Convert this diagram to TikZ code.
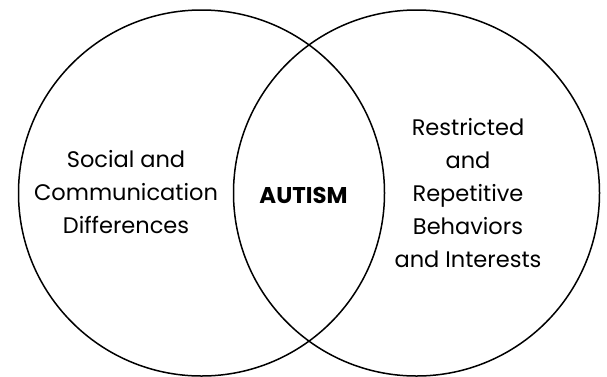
\documentclass[tikz,border=0pt]{standalone}
\usepackage{fontspec}
\setmainfont{Poppins}
\begin{document}
\begin{tikzpicture}[x=1pt,y=-1pt,
  ring/.style={draw=black,line width=1.5pt},
  lbl/.style={align=center,font=\fontsize{22.5}{33}\selectfont,inner sep=0pt},
  core/.style={font=\fontsize{22.8}{26}\selectfont\bfseries,inner sep=0pt,anchor=base}]
\useasboundingbox (0,0) rectangle (607,376);
\node[ring,circle,minimum size=366pt,inner sep=0pt] (L) at (201.5,193) {};
\node[ring,circle,minimum size=366pt,inner sep=0pt] (R) at (416.5,193) {};
\node[lbl] (social) at (126,192) {Social and\\Communication\\Differences};
\node[lbl] (rrb) at (468,193) {Restricted\\and\\Repetitive\\Behaviors\\and Interests};
\node[core] (autism) at (303.5,203) {AUTISM};
\end{tikzpicture}
\end{document}
